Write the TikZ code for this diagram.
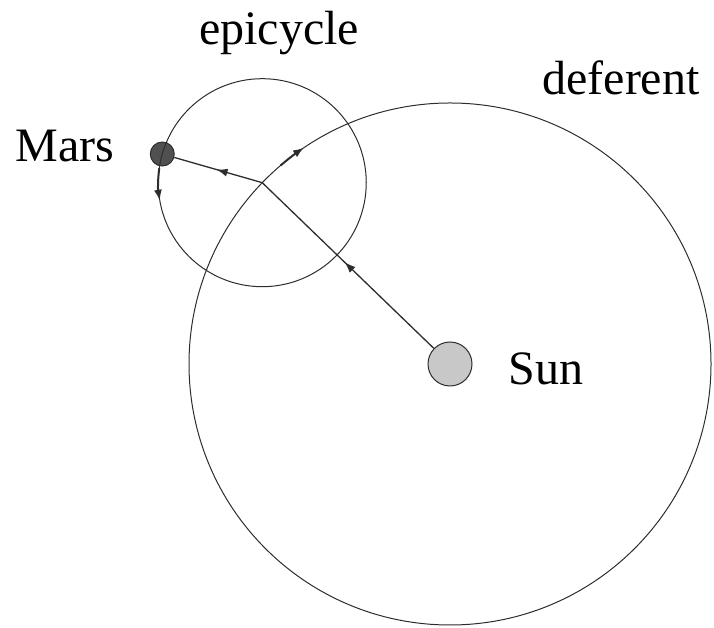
\documentclass[tikz,border=0pt]{standalone}
\usepackage{fontspec}
\setmainfont{Liberation Serif}
\usepackage{tikz}
\usetikzlibrary{arrows.meta,calc,decorations.markings}
\definecolor{orbitline}{RGB}{45,45,45}
\definecolor{marsgrey}{RGB}{80,80,80}
\definecolor{sungrey}{RGB}{200,200,200}
\tikzset{
  body/.style={circle,draw=orbitline,line width=1pt,inner sep=0pt},
  orbit/.style={draw=orbitline,line width=1pt},
  radius/.style={draw=orbitline,line width=1.3pt,postaction={decorate},
                 decoration={markings,mark=at position 0.52 with
                 {\arrow{Latex[length=11pt,width=8pt]}}}},
  motion/.style={draw=orbitline,line width=2pt,-{Latex[length=11pt,width=8pt]}},
  lbl/.style={font=\fontsize{48}{56}\selectfont,inner sep=0pt,anchor=base},
}
\begin{document}
\begin{tikzpicture}[x=1pt,y=1pt]
  \useasboundingbox (0,0) rectangle (714,628);
  \node[body,fill=sungrey,minimum size=44pt] (sun) at (450,264) {};
  \coordinate (epi) at ($(sun)+(136:261)$);
  \node[body,fill=marsgrey,minimum size=24pt] (mars) at ($(epi)+(164:104)$) {};

  % circles
  \draw[orbit] (sun.center) circle (261);
  \draw[orbit] (epi) circle (104);

  % radii
  \draw[radius] (sun) -- (epi);
  \draw[radius] (epi) -- (mars);

  % direction of motion
  \draw[motion] ($(sun)+(130.5:261)$) arc (130.5:124:261);
  \draw[motion] ($(epi)+(172:104)$) arc (172:190:104);

  \node[lbl] (epilbl) at (279,583) {epicycle};
  \node[lbl] (deflbl) at (621,533) {deferent};
  \node[lbl] (marslbl) at (65,466) {Mars};
  \node[lbl] (sunlbl) at (546,243) {Sun};
\end{tikzpicture}
\end{document}
